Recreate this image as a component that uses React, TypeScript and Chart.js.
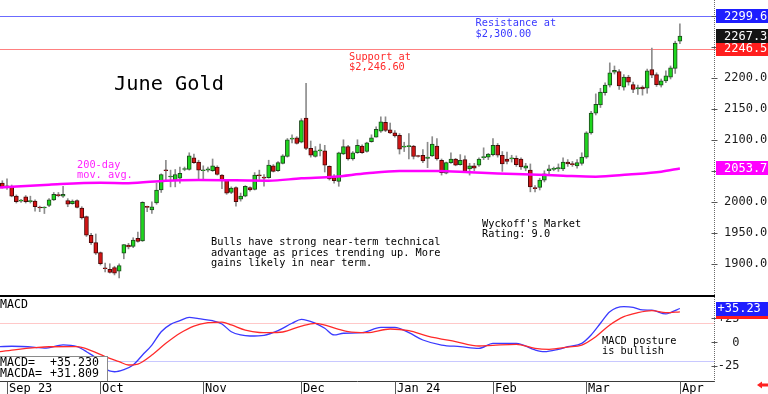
import React, { useEffect, useRef } from "react";
import { Chart, registerables } from "chart.js";

Chart.register(...registerables);

const MONO = "'DejaVu Sans Mono', monospace";

// ---- price data (index 0 = Aug 31 2023, daily trading sessions) ----
const opens = [
  2030, 2025, 2024, 2009, 2001, 2008, 2000, 2001, 1991, 1990,
  1994, 2003, 2011, 2009, 2002, 1997, 2002, 1990, 1976, 1946,
  1934, 1918, 1893, 1891, 1894, 1888, 1917, 1930, 1928, 1941,
  1937, 1992, 1987, 1998, 2019, 2051, 2040, 2035, 2038, 2052,
  2052, 2071, 2064, 2050, 2051, 2050, 2056, 2043, 2035, 2015,
  2023, 2004, 2009, 2023, 2020, 2043, 2039, 2039, 2058, 2050,
  2062, 2073, 2101, 2103, 2096, 2135, 2086, 2073, 2082, 2082,
  2057, 2039, 2033, 2077, 2089, 2069, 2079, 2090, 2081, 2097,
  2104, 2114, 2128, 2116, 2111, 2107, 2088, 2089, 2090, 2074,
  2075, 2070, 2074, 2090, 2067, 2046, 2063, 2069, 2060, 2068,
  2053, 2058, 2059, 2071, 2072, 2076, 2091, 2075, 2069, 2069,
  2070, 2069, 2054, 2051, 2023, 2023, 2035, 2050, 2052, 2053,
  2053, 2064, 2061, 2058, 2062, 2072, 2111, 2143, 2156, 2176,
  2188, 2209, 2210, 2185, 2201, 2189, 2182, 2185, 2183, 2213,
  2205, 2188, 2195, 2201, 2215, 2259,
];
const highs = [
  2034, 2037, 2027, 2011, 2004, 2010, 2009, 2003, 1993, 1992,
  2005, 2015, 2015, 2025, 2005, 2003, 2003, 1992, 1977, 1949,
  1948, 1919, 1901, 1900, 1896, 1900, 1931, 1933, 1942, 1951,
  2000, 1993, 2000, 2030, 2045, 2067, 2051, 2052, 2056, 2056,
  2079, 2077, 2067, 2058, 2056, 2069, 2058, 2044, 2036, 2024,
  2024, 2014, 2026, 2024, 2047, 2051, 2044, 2067, 2060, 2065,
  2076, 2102, 2108, 2105, 2134, 2191, 2098, 2089, 2093, 2091,
  2058, 2044, 2080, 2100, 2091, 2081, 2100, 2092, 2096, 2108,
  2121, 2137, 2137, 2127, 2115, 2110, 2096, 2110, 2091, 2075,
  2084, 2096, 2105, 2102, 2069, 2064, 2079, 2070, 2076, 2074,
  2062, 2062, 2071, 2087, 2078, 2102, 2094, 2081, 2080, 2075,
  2074, 2071, 2062, 2061, 2026, 2038, 2050, 2059, 2056, 2061,
  2071, 2068, 2065, 2068, 2079, 2113, 2146, 2174, 2183, 2192,
  2224, 2219, 2213, 2205, 2204, 2193, 2188, 2187, 2214, 2248,
  2208, 2198, 2211, 2219, 2259, 2287,
];
const lows = [
  2022, 2020, 2008, 1998, 1999, 1998, 1998, 1985, 1984, 1981,
  1992, 2002, 2008, 2007, 1992, 1996, 1990, 1972, 1944, 1931,
  1915, 1898, 1887, 1885, 1882, 1877, 1908, 1924, 1926, 1935,
  1936, 1984, 1981, 1996, 2015, 2035, 2024, 2024, 2030, 2050,
  2051, 2062, 2035, 2037, 2048, 2049, 2043, 2021, 2012, 2013,
  1993, 2001, 2008, 2017, 2019, 2036, 2025, 2038, 2048, 2049,
  2061, 2072, 2095, 2093, 2095, 2084, 2072, 2072, 2074, 2048,
  2035, 2030, 2025, 2076, 2067, 2067, 2078, 2078, 2080, 2096,
  2104, 2112, 2113, 2110, 2104, 2077, 2081, 2069, 2069, 2072,
  2063, 2055, 2073, 2067, 2043, 2045, 2062, 2058, 2059, 2048,
  2043, 2050, 2057, 2068, 2068, 2074, 2072, 2049, 2061, 2064,
  2057, 2052, 2050, 2016, 2016, 2019, 2032, 2044, 2050, 2049,
  2050, 2057, 2057, 2054, 2059, 2070, 2109, 2140, 2152, 2172,
  2185, 2206, 2181, 2180, 2188, 2176, 2173, 2172, 2175, 2200,
  2186, 2185, 2192, 2198, 2207, 2255,
];
const closes = [
  2024, 2024, 2009, 2000, 2002, 2000, 2002, 1992, 1990, 1991,
  2003, 2012, 2010, 2012, 1996, 2001, 1991, 1974, 1946, 1934,
  1917, 1900, 1892, 1886, 1885, 1897, 1931, 1927, 1938, 1936,
  1999, 1991, 1992, 2019, 2044, 2050, 2041, 2044, 2046, 2053,
  2074, 2063, 2051, 2051, 2053, 2058, 2044, 2035, 2014, 2022,
  2000, 2009, 2025, 2019, 2043, 2042, 2038, 2059, 2049, 2063,
  2074, 2100, 2102, 2094, 2131, 2086, 2075, 2082, 2083, 2059,
  2037, 2034, 2079, 2089, 2069, 2079, 2091, 2079, 2095, 2103,
  2117, 2129, 2115, 2111, 2106, 2085, 2089, 2090, 2073, 2073,
  2066, 2072, 2093, 2069, 2047, 2063, 2069, 2059, 2067, 2049,
  2058, 2054, 2069, 2073, 2077, 2091, 2075, 2061, 2065, 2071,
  2060, 2056, 2058, 2024, 2021, 2035, 2045, 2053, 2054, 2055,
  2064, 2061, 2060, 2063, 2072, 2111, 2143, 2157, 2177, 2188,
  2208, 2212, 2187, 2201, 2193, 2181, 2184, 2182, 2211, 2204,
  2189, 2195, 2203, 2216, 2256, 2267.3,
];

// 200-day moving average, read at these session indices
const maIdx = [-0.5, 10, 21, 27, 35, 42, 50, 57, 64, 71, 78, 85, 93, 100, 106, 113, 120, 127, 134, 141, 145];
const maVals = [2023, 2027.5, 2030.7, 2030, 2034, 2035, 2034.5, 2034, 2037.8, 2040.4, 2046, 2049.5, 2049.5, 2047.5, 2045.5, 2044, 2042, 2040.5, 2044, 2048.5, 2053.7];

// MACD (blue) and MACDA signal (red), read at these session indices
const macdIdx = [-0.5, 2, 7, 9, 13, 16, 18, 21, 22, 24, 26, 28, 30, 32, 34, 36, 38, 40, 42, 45, 47, 49, 51, 53, 56, 59, 62, 64, 67, 69, 71, 73, 77, 81, 84, 87, 90, 94, 98, 102, 105, 110, 114, 116, 119, 121, 124, 126, 128, 130, 133, 135, 137, 139, 142, 143, 145];
const macdVals = [-4.9, -4.5, -5.6, -6.5, -3, -4.9, -10.2, -20.7, -27.7, -31.3, -29, -24.2, -13.7, -3.2, 10.8, 18.5, 22.4, 26, 24.5, 22.4, 18.9, 10.8, 7.4, 6.3, 7, 11.9, 19.7, 23.9, 19.7, 14.4, 7.4, 9.2, 9.8, 15.4, 15.4, 9.8, 2.1, -3.2, -4.9, -6.7, -1.4, -1.4, -8.4, -10.2, -7.7, -5, -1.4, 7.4, 19.7, 31.9, 37.2, 36.5, 33.7, 33.5, 29.5, 31, 35.23];
const sigIdx = [-0.5, 3, 7, 10, 16, 19, 22, 25, 27, 29, 32, 35, 38, 41, 44, 47, 49, 52, 55, 57, 60, 64, 67, 72, 74, 78, 83, 87, 91, 97, 102, 105, 110, 114, 117, 121, 124, 127, 130, 133, 136, 139, 142, 145];
const sigVals = [-10.2, -8, -6, -5, -4.9, -9.1, -15.4, -20.7, -24.2, -23.2, -13.7, -1.4, 9.2, 16.8, 20.3, 21, 17.9, 12.5, 10, 9.8, 10.5, 16.8, 19.7, 13.3, 10.8, 9.8, 13.7, 11.9, 6.3, 0.4, -4.2, -3.5, -2.5, -6.7, -7.7, -5.3, -3.2, 5.6, 17.9, 26.7, 30.9, 33, 30.9, 31.8];

const monthLabels = ["Sep 23", "Oct", "Nov", "Dec", "Jan 24", "Feb", "Mar", "Apr"];
const monthIdx = [1, 21, 43, 64, 84, 105, 125, 145];
const priceTicks = [1900, 1950, 2000, 2050, 2100, 2150, 2200, 2250, 2300];
const macdTicks = [25, 0, -25];
const macdTickLabels = ["+25", "0", "-25"];
const macdRefLines = [20, -20];

const resistance = 2299.6;
const support = 2246.6;
const lastPrice = 2267.3;
const maLast = 2053.7;
const macdLast = 35.23;
const macdaLast = 31.809;

const X_MIN = -0.5;
const X_MAX = 152.3;
const RIGHT_PAD = 54;

function txt(ctx: CanvasRenderingContext2D, s: string, x: number, y: number, color: string, size: number, align: CanvasTextAlign = "left") {
  ctx.save();
  ctx.font = `${size}px ${MONO}`;
  ctx.fillStyle = color;
  ctx.textAlign = align;
  ctx.textBaseline = "middle";
  ctx.fillText(s, x, y);
  ctx.restore();
}

function rightBox(ctx: CanvasRenderingContext2D, x: number, yc: number, w: number, bg: string, label: string, tx: number) {
  ctx.save();
  ctx.fillStyle = bg;
  ctx.fillRect(x, Math.round(yc - 7), w, 14);
  ctx.restore();
  txt(ctx, label, tx, yc + 0.5, "#ffffff", 12);
}

function drawAxisLine(ctx: CanvasRenderingContext2D, x: number, y0: number, y1: number) {
  ctx.save();
  ctx.strokeStyle = "#6a6a6a";
  ctx.lineWidth = 1;
  ctx.setLineDash([1, 1]);
  ctx.beginPath();
  ctx.moveTo(x, y0);
  ctx.lineTo(x, y1);
  ctx.stroke();
  ctx.restore();
}

const mainDecor = {
  id: "mainDecor",
  beforeDatasetsDraw(chart: any) {
    const { ctx, chartArea: a, scales } = chart;
    const y = scales.y;
    ctx.save();
    ctx.lineWidth = 1;
    ctx.strokeStyle = "#6b6bff";
    const yr = Math.round(y.getPixelForValue(resistance)) + 0.5;
    ctx.beginPath();
    ctx.moveTo(a.left, yr);
    ctx.lineTo(chart.width, yr);
    ctx.stroke();
    ctx.strokeStyle = "#ff8080";
    const ys = Math.round(y.getPixelForValue(support)) + 0.5;
    ctx.beginPath();
    ctx.moveTo(a.left, ys);
    ctx.lineTo(chart.width, ys);
    ctx.stroke();
    ctx.restore();
  },
  afterDatasetsDraw(chart: any) {
    const { ctx, chartArea: a, scales } = chart;
    const y = scales.y;
    const S = 10.3;
    // annotations
    txt(ctx, "June Gold", 114, 85, "#000000", 20.3);
    txt(ctx, "Resistance at", 475.5, 23.5, "#3a3aff", S);
    txt(ctx, "$2,300.00", 475.5, 34, "#3a3aff", S);
    txt(ctx, "Support at", 349, 57, "#ff2a2a", S);
    txt(ctx, "$2,246.60", 349, 67.5, "#ff2a2a", S);
    txt(ctx, "200-day", 77, 165, "#ff22ff", S);
    txt(ctx, "mov. avg.", 77, 175.5, "#ff22ff", S);
    txt(ctx, "Bulls have strong near-term technical", 211, 242.5, "#000000", S);
    txt(ctx, "advantage as prices trending up. More", 211, 253, "#000000", S);
    txt(ctx, "gains likely in near term.", 211, 263.5, "#000000", S);
    txt(ctx, "Wyckoff's Market", 482, 224, "#000000", S);
    txt(ctx, "Rating: 9.0", 482, 234.5, "#000000", S);

    // right axis
    const ax = Math.round(a.right) + 0.5;
    drawAxisLine(ctx, ax, 0, chart.height);
    ctx.save();
    ctx.strokeStyle = "#555";
    ctx.lineWidth = 1;
    for (const t of priceTicks) {
      const py = Math.round(y.getPixelForValue(t)) + 0.5;
      ctx.beginPath();
      ctx.moveTo(ax - 3, py);
      ctx.lineTo(ax + 3, py);
      ctx.stroke();
    }
    ctx.restore();
    for (const t of priceTicks) {
      const py = y.getPixelForValue(t);
      if (py < 4 || py > chart.height - 4) continue;
      txt(ctx, t.toFixed(1), ax + 9.5, py + 0.5, "#1a1a1a", 12);
    }
    const bx = ax + 1.5;
    const bw = chart.width - bx;
    rightBox(ctx, bx, y.getPixelForValue(maLast), bw, "#ff00ff", maLast.toFixed(1), ax + 9.5);
    rightBox(ctx, bx, y.getPixelForValue(support), bw, "#ff1e1e", "2246.5", ax + 9.5);
    rightBox(ctx, bx, y.getPixelForValue(lastPrice), bw, "#141414", lastPrice.toFixed(1), ax + 9.5);
    rightBox(ctx, bx, y.getPixelForValue(resistance), bw, "#1e1eff", resistance.toFixed(1), ax + 9.5);

    // separator
    ctx.save();
    ctx.fillStyle = "#000000";
    ctx.fillRect(0, chart.height - 2, Math.round(a.right) + 1, 2);
    ctx.restore();
  },
};

const macdDecor = {
  id: "macdDecor",
  beforeDatasetsDraw(chart: any) {
    const { ctx, chartArea: a, scales } = chart;
    const y = scales.y;
    const cols = ["#ffc8c8", "#c8c8ff"];
    ctx.save();
    ctx.lineWidth = 1;
    macdRefLines.forEach((v, k) => {
      ctx.strokeStyle = cols[k];
      const py = Math.round(y.getPixelForValue(v)) + 0.5;
      ctx.beginPath();
      ctx.moveTo(a.left, py);
      ctx.lineTo(a.right, py);
      ctx.stroke();
    });
    ctx.restore();
  },
  afterDatasetsDraw(chart: any) {
    const { ctx, chartArea: a, scales } = chart;
    const y = scales.y;
    const x = scales.x;
    const S = 10.3;
    txt(ctx, "MACD", 0, 7.5, "#000000", 11.6);
    txt(ctx, "MACD posture", 602, 44.5, "#000000", S);
    txt(ctx, "is bullish", 602, 54.5, "#000000", S);

    // value box
    ctx.save();
    ctx.fillStyle = "#ffffff";
    ctx.fillRect(0, 59, 108, 25);
    ctx.strokeStyle = "#8a8a8a";
    ctx.lineWidth = 1;
    ctx.strokeRect(-0.5, 59.5, 108, 25);
    ctx.restore();
    txt(ctx, "MACD=", 0, 66, "#000000", 11.6);
    txt(ctx, "+" + macdLast.toFixed(3), 50, 66, "#000000", 11.6);
    txt(ctx, "MACDA=", 0, 77, "#000000", 11.6);
    txt(ctx, "+" + macdaLast.toFixed(3), 50, 77, "#000000", 11.6);

    // bottom border
    const by = Math.round(a.bottom) + 0.5;
    ctx.save();
    ctx.strokeStyle = "#3a3a3a";
    ctx.lineWidth = 1;
    ctx.beginPath();
    ctx.moveTo(0, by);
    ctx.lineTo(Math.round(a.right) + 1, by);
    ctx.stroke();
    // month ticks
    ctx.strokeStyle = "#5a5a5a";
    monthIdx.forEach((m) => {
      const px = Math.round(x.getPixelForValue(m)) + 0.5;
      ctx.beginPath();
      ctx.moveTo(px, by);
      ctx.lineTo(px, chart.height);
      ctx.stroke();
    });
    ctx.restore();
    monthLabels.forEach((lab, k) => {
      const px = Math.round(x.getPixelForValue(monthIdx[k])) + 2;
      txt(ctx, lab, px, 91.5, "#000000", 12);
    });

    // right axis
    const ax = Math.round(a.right) + 0.5;
    drawAxisLine(ctx, ax, 0, by);
    macdTicks.forEach((t, k) => {
      const py = y.getPixelForValue(t);
      ctx.save();
      ctx.strokeStyle = "#555";
      ctx.beginPath();
      ctx.moveTo(ax - 3, Math.round(py) + 0.5);
      ctx.lineTo(ax + 3, Math.round(py) + 0.5);
      ctx.stroke();
      ctx.restore();
      txt(ctx, macdTickLabels[k], ax + 25, py + 0.5, "#1a1a1a", 12, "right");
    });
    const bx = ax + 1.5;
    const bw = chart.width - bx;
    rightBox(ctx, bx, y.getPixelForValue(macdaLast), bw, "#ff1e1e", "+" + macdaLast.toFixed(2), ax + 3);
    rightBox(ctx, bx, y.getPixelForValue(macdLast), bw, "#1e1eff", "+" + macdLast.toFixed(2), ax + 3);

    // red arrow bottom-right
    ctx.save();
    ctx.fillStyle = "#ff2020";
    ctx.beginPath();
    ctx.moveTo(757, 88);
    ctx.lineTo(762, 84.5);
    ctx.lineTo(762, 91.5);
    ctx.closePath();
    ctx.fill();
    ctx.fillRect(761, 86.5, 7, 3);
    ctx.restore();
  },
};

export default function App() {
  const mainRef = useRef<HTMLCanvasElement>(null);
  const macdRef = useRef<HTMLCanvasElement>(null);

  useEffect(() => {
    document.body.style.margin = "0";
    const n = closes.length;
    const idx = Array.from({ length: n }, (_, i) => i);
    const up = idx.map((i) => closes[i] >= opens[i]);

    const main = new Chart(mainRef.current as HTMLCanvasElement, {
      type: "bar",
      data: {
        datasets: [
          {
            type: "line",
            data: maIdx.map((v, k) => ({ x: v, y: maVals[k] })),
            borderColor: "#ff00ff",
            borderWidth: 2.5,
            pointRadius: 0,
            cubicInterpolationMode: "monotone",
            order: 0,
          } as any,
          {
            type: "bar",
            data: idx.map((i) => ({ x: i, y: [Math.min(opens[i], closes[i]), Math.max(opens[i], closes[i])] })),
            backgroundColor: up.map((u) => (u ? "#1ed61e" : "#d21414")),
            borderColor: up.map((u) => (u ? "#1d4a1d" : "#4a0808")),
            borderWidth: 1,
            borderSkipped: false,
            barThickness: 4,
            minBarLength: 1,
            grouped: false,
            order: 1,
          } as any,
          {
            type: "bar",
            data: idx.map((i) => ({ x: i, y: [lows[i], highs[i]] })),
            backgroundColor: "#8c8c8c",
            barThickness: 1,
            grouped: false,
            order: 2,
          } as any,
        ],
      },
      options: {
        responsive: false,
        devicePixelRatio: 1,
        animation: false,
        events: [],
        layout: { padding: { left: 0, right: RIGHT_PAD, top: 0, bottom: 0 } },
        scales: {
          x: { type: "linear", min: X_MIN, max: X_MAX, offset: false, bounds: "data", display: false },
          y: { min: 1846.4, max: 2325.4, display: false },
        },
        plugins: { legend: { display: false }, tooltip: { enabled: false } },
      } as any,
      plugins: [mainDecor],
    });

    const macd = new Chart(macdRef.current as HTMLCanvasElement, {
      type: "line",
      data: {
        datasets: [
          {
            data: sigIdx.map((v, k) => ({ x: v, y: sigVals[k] })),
            borderColor: "#ff2a2a",
            borderWidth: 1.3,
            pointRadius: 0,
            cubicInterpolationMode: "monotone",
          },
          {
            data: macdIdx.map((v, k) => ({ x: v, y: macdVals[k] })),
            borderColor: "#3a3aff",
            borderWidth: 1.3,
            pointRadius: 0,
            cubicInterpolationMode: "monotone",
          },
        ],
      },
      options: {
        responsive: false,
        devicePixelRatio: 1,
        animation: false,
        events: [],
        layout: { padding: { left: 0, right: RIGHT_PAD, top: 1, bottom: 13 } },
        scales: {
          x: { type: "linear", min: X_MIN, max: X_MAX, offset: false, display: false },
          y: { min: -41.05, max: 46.3, display: false },
        },
        plugins: { legend: { display: false }, tooltip: { enabled: false } },
      } as any,
      plugins: [macdDecor],
    });

    return () => {
      main.destroy();
      macd.destroy();
    };
  }, []);

  return (
    <div style={{ position: "fixed", left: 0, top: 0, width: 768, height: 394, background: "#ffffff", overflow: "hidden" }}>
      <canvas ref={mainRef} width={768} height={297} style={{ position: "absolute", left: 0, top: 0, width: 768, height: 297 }} />
      <canvas ref={macdRef} width={768} height={97} style={{ position: "absolute", left: 0, top: 297, width: 768, height: 97 }} />
    </div>
  );
}
